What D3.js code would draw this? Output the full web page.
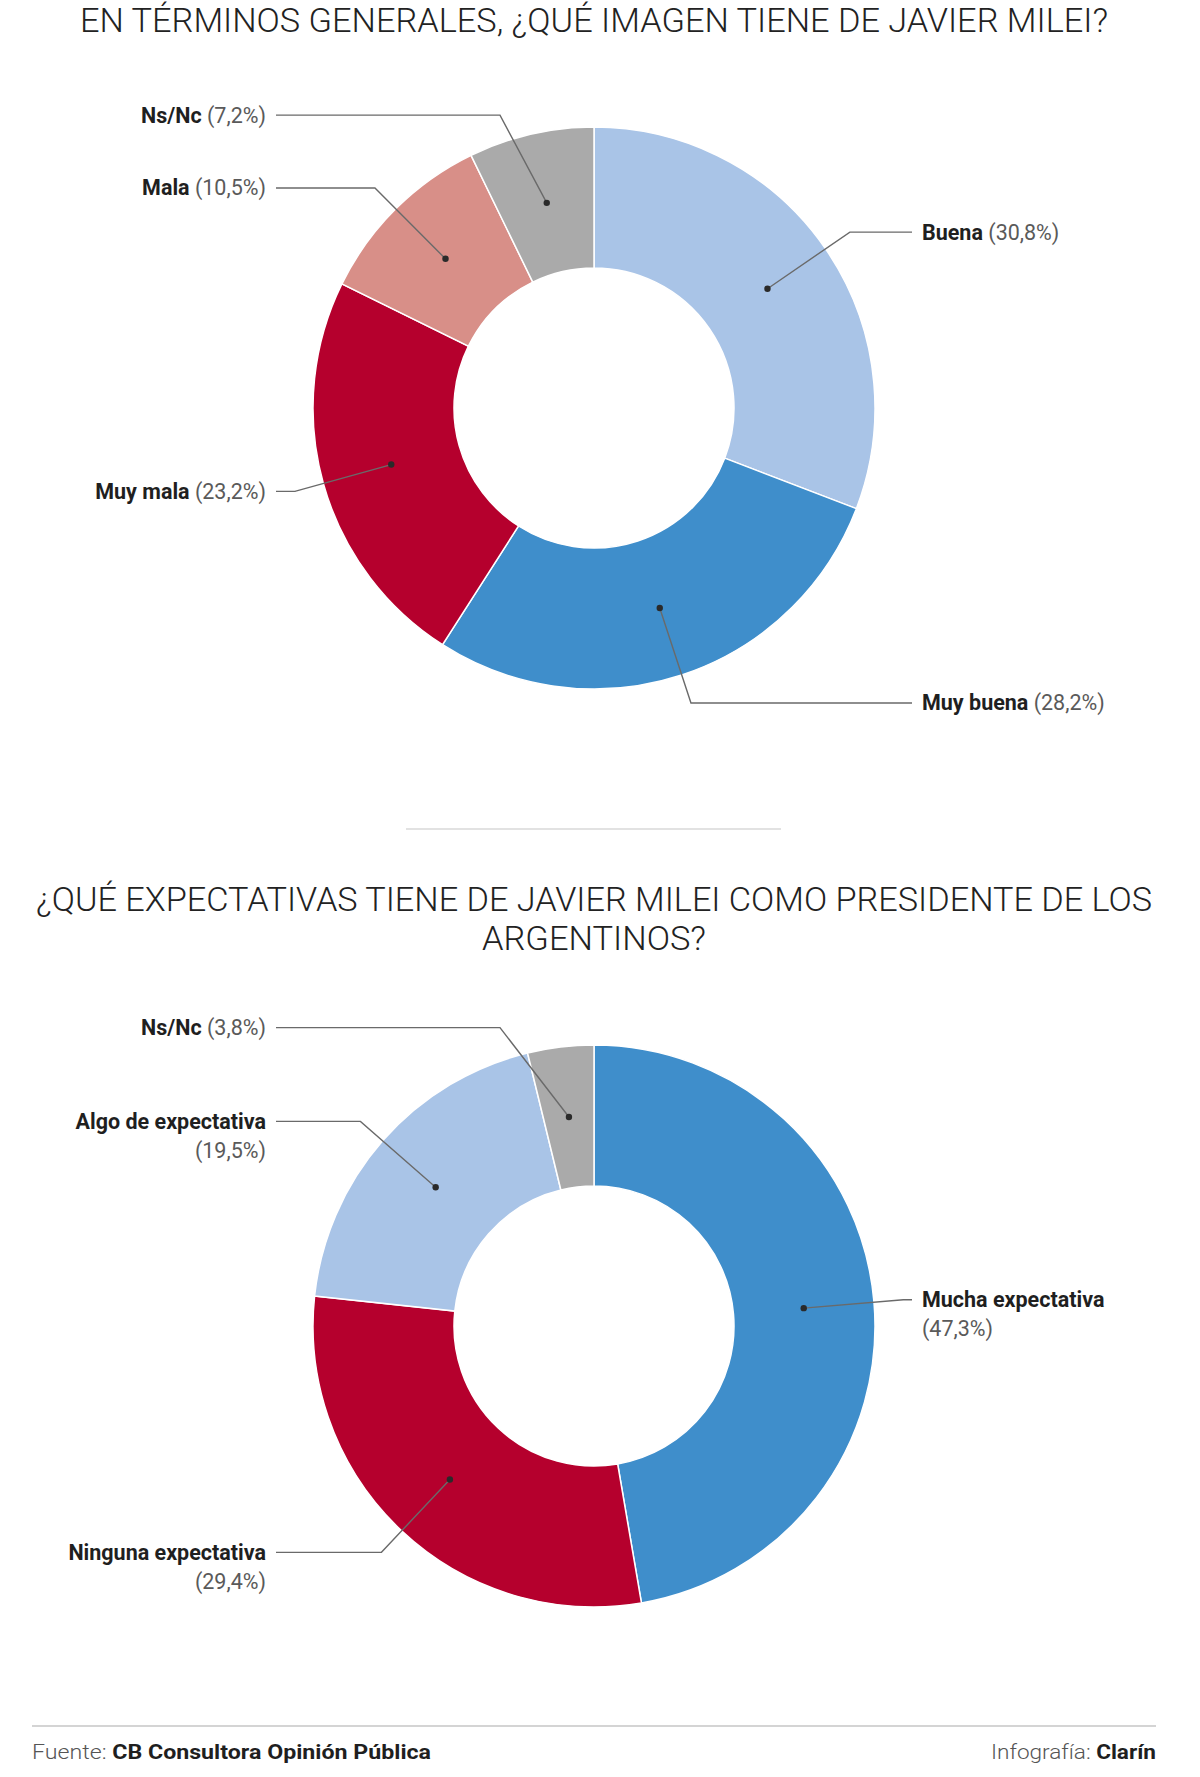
<!DOCTYPE html>
<html>

<head>
    <meta charset="utf-8">
    <style>
        body {
            margin: 0;
            background: #fff;
        }

        svg {
            display: block;
            font-family: Roboto, 'Noto Sans', sans-serif;
        }

        .title {
            font-size: 33px;
            font-weight: 300;
            fill: #222;
        }

        .lbl-name {
            font-weight: 700;
            fill: #1f1f1f;
        }

        .lbl-pct {
            font-weight: 400;
            fill: #5a5a5a;
        }

        .lbl {
            font-size: 21.5px;
        }

        .leader {
            fill: none;
            stroke: #6a6a6a;
            stroke-width: 1.4;
        }

        .footer {
            font-size: 20px;
        }
    </style>
</head>

<body>
    <svg width="1200" height="1777"></svg>

    <script src="https://d3js.org/d3.v7.min.js"></script>

    <script>
        // chart 1: imagen de Milei
        let imagenLabels = ["Buena", "Muy buena", "Muy mala", "Mala", "Ns/Nc"]
        let imagenValues = [30.8, 28.2, 23.2, 10.5, 7.2]
        let imagenColors = ["#a9c4e7", "#3f8ecb", "#b5002d", "#d88f88", "#aaaaaa"]

        // chart 2: expectativas
        let expectLabels = ["Mucha expectativa", "Ninguna expectativa", "Algo de expectativa", "Ns/Nc"]
        let expectValues = [47.3, 29.4, 19.5, 3.8]
        let expectColors = ["#3f8ecb", "#b5002d", "#a9c4e7", "#aaaaaa"]

        let title1 = "EN TÉRMINOS GENERALES, ¿QUÉ IMAGEN TIENE DE JAVIER MILEI?"
        let title2 = ["¿QUÉ EXPECTATIVAS TIENE DE JAVIER MILEI COMO PRESIDENTE DE LOS", "ARGENTINOS?"]

        let svg = d3.select("svg")
        let width = 1200
        let cx = width / 2 - 6

        let outerR = 281
        let innerR = 140

        let fmt = v => "(" + d3.format(".1f")(v).replace(".", ",") + "%)"

        // titles
        svg.append("text")
            .attr("class", "title")
            .attr("x", cx)
            .attr("y", 32)
            .attr("text-anchor", "middle")
            .attr("textLength", 1028)
            .attr("lengthAdjust", "spacingAndGlyphs")
            .text(title1)

        svg.append("text")
            .attr("class", "title")
            .attr("x", cx)
            .attr("y", 911)
            .attr("text-anchor", "middle")
            .attr("textLength", 1116)
            .attr("lengthAdjust", "spacingAndGlyphs")
            .text(title2[0])

        svg.append("text")
            .attr("class", "title")
            .attr("x", cx)
            .attr("y", 950)
            .attr("text-anchor", "middle")
            .attr("textLength", 224)
            .attr("lengthAdjust", "spacingAndGlyphs")
            .text(title2[1])

        // separator
        svg.append("line")
            .attr("x1", 406).attr("x2", 781)
            .attr("y1", 829).attr("y2", 829)
            .attr("stroke", "#d9d9d9")
            .attr("stroke-width", 1.5)

        function donut(labels, values, colors, cy) {
            let data = labels.map((l, i) => ({ label: l, value: values[i], color: colors[i] }))

            let pie = d3.pie().sort(null).value(d => d.value)
            let arc = d3.arc().innerRadius(innerR).outerRadius(outerR)
            let arcs = pie(data)

            let g = svg.append("g").attr("transform", `translate(${cx},${cy})`)

            g.selectAll("path")
                .data(arcs)
                .join("path")
                .attr("d", arc)
                .attr("fill", d => d.data.color)
                .attr("stroke", "#fff")
                .attr("stroke-width", 1.5)

            let leaderLen = 100
            let minDx = 94

            arcs.forEach(d => {
                let c = arc.centroid(d)
                let r = Math.hypot(c[0], c[1])
                let ux = c[0] / r, uy = c[1] / r
                let ex = c[0] + leaderLen * ux
                let ey = c[1] + leaderLen * uy
                let side = ex < 0 ? -1 : 1
                if (Math.abs(ex) < minDx) {
                    // near-vertical slices: push the elbow sideways
                    ex = side * minDx
                    ey = c[1] + 0.9 * leaderLen * uy
                }
                let lineEnd = side * 318

                g.append("path")
                    .attr("class", "leader")
                    .attr("d", d3.line()([c, [ex, ey], [lineEnd, ey]]))

                g.append("circle")
                    .attr("cx", c[0]).attr("cy", c[1])
                    .attr("r", 3.2)
                    .attr("fill", "#2a2a2a")

                let tx = side * 328
                let anchor = side < 0 ? "end" : "start"
                let twoLines = d.data.label.length > 12

                let t = g.append("text")
                    .attr("class", "lbl")
                    .attr("x", tx)
                    .attr("y", ey + 7.5)
                    .attr("text-anchor", anchor)

                t.append("tspan").attr("class", "lbl-name").text(d.data.label)
                if (twoLines) {
                    g.append("text")
                        .attr("class", "lbl lbl-pct")
                        .attr("x", tx)
                        .attr("y", ey + 7.5 + 29)
                        .attr("text-anchor", anchor)
                        .text(fmt(d.data.value))
                } else {
                    t.append("tspan").attr("class", "lbl-pct").text(" " + fmt(d.data.value))
                }
            })
        }

        donut(imagenLabels, imagenValues, imagenColors, 408)
        donut(expectLabels, expectValues, expectColors, 1326)

        // footer
        svg.append("line")
            .attr("x1", 32).attr("x2", 1156)
            .attr("y1", 1726).attr("y2", 1726)
            .attr("stroke", "#d4d4d4")
            .attr("stroke-width", 2)

        let f1 = svg.append("text")
            .attr("class", "footer")
            .attr("x", 32)
            .attr("y", 1759)
            .attr("textLength", 399)
            .attr("lengthAdjust", "spacingAndGlyphs")
        f1.append("tspan").attr("fill", "#555").attr("font-weight", 300).text("Fuente: ")
        f1.append("tspan").attr("fill", "#1f1f1f").attr("font-weight", 700).text("CB Consultora Opinión Pública")

        let f2 = svg.append("text")
            .attr("class", "footer")
            .attr("x", 1156)
            .attr("y", 1759)
            .attr("text-anchor", "end")
            .attr("textLength", 165)
            .attr("lengthAdjust", "spacingAndGlyphs")
        f2.append("tspan").attr("fill", "#555").attr("font-weight", 300).text("Infografía: ")
        f2.append("tspan").attr("fill", "#1f1f1f").attr("font-weight", 700).text("Clarín")
    </script>
</body>

</html>
